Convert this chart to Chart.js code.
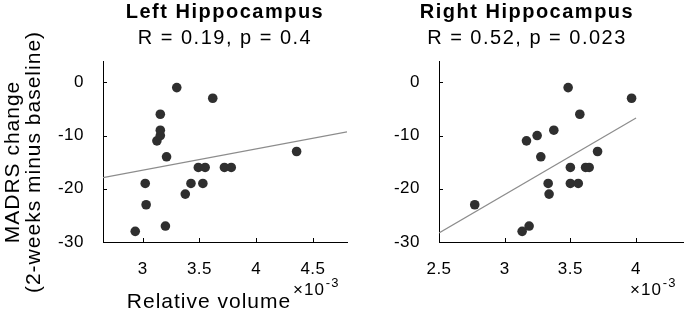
<!DOCTYPE html>
<html>
<head>
<meta charset="utf-8">
<script src="https://cdn.jsdelivr.net/npm/chart.js@4.4.0/dist/chart.umd.min.js"></script>
<style>
  html, body { margin:0; padding:0; background:#fff; overflow:hidden; width:684px; height:311px; }
  #chartLeft { position:absolute; left:0; top:0; }
  #chartRight { position:absolute; left:370px; top:0; }
</style>
</head>
<body>
<canvas id="chartLeft" width="360" height="311"></canvas>
<canvas id="chartRight" width="345" height="311"></canvas>
<script>
// Scatter MADRS change vs hippocampal volume (x 10^-3)

// ---- DATA
const leftVolume = [2.934, 3.022, 3.03, 3.20, 3.125, 3.155, 3.155, 3.155, 3.21, 3.30, 3.375, 3.425, 3.53, 3.49, 3.55, 3.617, 3.72, 3.78, 4.356];
const leftMadrs  = [-28, -19, -23, -27, -11, -10, -9, -6, -14, -1, -21, -19, -19, -16, -16, -3, -16, -16, -13];
const leftFitX = [2.65, 4.8];
const leftFitY = [-17.9, -9.3];

const rightVolume = [2.772, 3.133, 3.186, 3.166, 3.247, 3.275, 3.374, 3.331, 3.338, 3.483, 3.50, 3.50, 3.56, 3.572, 3.616, 3.643, 3.707, 3.966];
const rightMadrs  = [-23, -28, -27, -11, -10, -14, -9, -19, -21, -1, -16, -19, -19, -6, -16, -16, -13, -3];
const rightFitX = [2.5, 4.0];
const rightFitY = [-28.3, -6.7];

const leftXTicks = [3, 3.5, 4, 4.5];
const rightXTicks = [2.5, 3, 3.5, 4];
const yTicks = [-30, -20, -10, 0];

const FONT = '"Liberation Sans", Arial, Helvetica, sans-serif';

function toPoints(xs, ys){
  return xs.map((x, i) => ({x: x, y: ys[i]}));
}

// ---- letter spacing (matlab text is a bit wider)
const spacing = {
  id: 'spacing',
  beforeDraw(chart){ chart.ctx.letterSpacing = '1.5px'; },
  afterDatasetsDraw(chart){ chart.ctx.letterSpacing = '0.5px'; }
};

// ---- inner tick marks, exponent and axis labels
const decor = {
  id: 'decor',
  afterDraw(chart, args, opts){
    const ctx = chart.ctx;
    const xs = chart.scales.x, ys = chart.scales.y;
    const area = chart.chartArea;
    ctx.save();
    ctx.strokeStyle = '#000';
    ctx.lineWidth = 1;
    ctx.beginPath();
    xs.ticks.forEach(t => {
      const px = Math.round(xs.getPixelForValue(t.value)) + 0.5;
      ctx.moveTo(px, area.bottom);
      ctx.lineTo(px, area.bottom - 4);
    });
    ys.ticks.forEach(t => {
      const py = Math.round(ys.getPixelForValue(t.value)) + 0.5;
      ctx.moveTo(area.left, py);
      ctx.lineTo(area.left + 4, py);
    });
    ctx.stroke();

    ctx.fillStyle = '#000';
    ctx.textAlign = 'left';
    ctx.textBaseline = 'alphabetic';
    ctx.letterSpacing = '1px';
    ctx.font = '17px ' + FONT;
    const ex = area.right - 54, ey = area.bottom + 53;
    ctx.fillText('\u00d710', ex, ey);
    const w = ctx.measureText('\u00d710').width;
    ctx.font = '13px ' + FONT;
    ctx.fillText('-3', ex + w + 1, ey - 8);

    if (opts.xTitle){
      ctx.letterSpacing = '1px';
      ctx.font = '21px ' + FONT;
      ctx.textAlign = 'center';
      ctx.fillText(opts.xTitle, (area.left + area.right) / 2 - 16, area.bottom + 66);
    }
    if (opts.yTitle){
      ctx.letterSpacing = '1px';
      ctx.font = '21px ' + FONT;
      ctx.textAlign = 'center';
      ctx.textBaseline = 'middle';
      ctx.translate(0, 162);
      ctx.rotate(-Math.PI / 2);
      opts.yTitle.forEach((line, i) => ctx.fillText(line, 0, 13 + i * 21));
    }
    ctx.restore();
  }
};

function makeChart(id, cfg){
  const ctx = document.getElementById(id).getContext('2d');
  return new Chart(ctx, {
    type: 'scatter',
    data: {
      datasets: [{
        type: 'line',
        data: toPoints(cfg.fitX, cfg.fitY),
        borderColor: '#8c8c8c',
        borderWidth: 1.2,
        pointRadius: 0,
        fill: false,
        order: 2
      }, {
        data: toPoints(cfg.x, cfg.y),
        backgroundColor: '#2f2f2f',
        borderColor: '#2f2f2f',
        pointRadius: 4.8,
        pointBorderWidth: 0,
        order: 1
      }]
    },
    plugins: [spacing, decor],
    options: {
      responsive: false,
      animation: false,
      layout: { padding: { left: 0, right: cfg.padRight, top: 0, bottom: 0 } },
      plugins: {
        legend: { display: false },
        tooltip: { enabled: false },
        title: {
          display: true,
          text: cfg.title,
          fullSize: cfg.fullSize,
          color: '#000',
          font: { family: FONT, size: 20, weight: 'bold', lineHeight: 1.2 },
          padding: { top: 0, bottom: 2 }
        },
        subtitle: {
          display: true,
          text: cfg.subtitle,
          fullSize: cfg.fullSize,
          color: '#000',
          font: { family: FONT, size: 20, weight: 'normal', lineHeight: 1.2 },
          padding: { top: 0, bottom: 11 }
        },
        decor: { xTitle: cfg.xTitle, yTitle: cfg.yTitle }
      },
      scales: {
        x: {
          type: 'linear',
          min: cfg.xMin,
          max: cfg.xMax,
          afterBuildTicks: s => { s.ticks = cfg.xTicks.map(v => ({value: v})); },
          afterFit: s => { s.height = 69; },
          grid: { display: false },
          border: { display: true, color: '#000', width: 1 },
          ticks: { color: '#000', font: { family: FONT, size: 17 }, padding: 9, maxRotation: 0, z: 1,
                   callback: v => String(v) }
        },
        y: {
          type: 'linear',
          min: -30,
          max: 4,
          afterBuildTicks: s => { s.ticks = yTicks.map(v => ({value: v})); },
          afterFit: s => { s.width = cfg.yWidth; },
          grid: { display: false },
          border: { display: true, color: '#000', width: 1 },
          ticks: { color: '#000', font: { family: FONT, size: 17 }, padding: 11, z: 1,
                   callback: v => String(v) }
        }
      }
    }
  });
}

makeChart('chartLeft', {
  x: leftVolume, y: leftMadrs, fitX: leftFitX, fitY: leftFitY,
  title: 'Left Hippocampus', subtitle: 'R = 0.19, p = 0.4',
  xMin: 2.65, xMax: 4.8, xTicks: leftXTicks,
  yWidth: 103, padRight: 13, fullSize: false,
  xTitle: 'Relative volume',
  yTitle: ['MADRS change', '(2-weeks minus baseline)']
});

makeChart('chartRight', {
  x: rightVolume, y: rightMadrs, fitX: rightFitX, fitY: rightFitY,
  title: 'Right Hippocampus', subtitle: 'R = 0.52, p = 0.023',
  xMin: 2.5, xMax: 4.365, xTicks: rightXTicks,
  yWidth: 69, padRight: 31, fullSize: true,
  xTitle: null, yTitle: null
});
</script>
</body>
</html>
